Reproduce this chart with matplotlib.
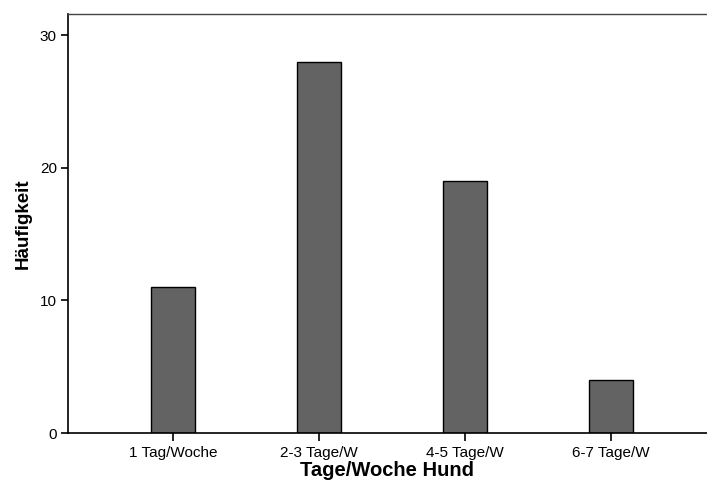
import numpy as np
import matplotlib.pyplot as plt

plt.rcParams['font.family'] = ['Liberation Sans', 'DejaVu Sans']

categories = ["1 Tag/Woche", "2-3 Tage/W", "4-5 Tage/W", "6-7 Tage/W"]
counts = [11, 28, 19, 4]
yticks = [0, 10, 20, 30]

fig = plt.figure(figsize=(7.07, 4.86), dpi=100)
ax = fig.add_axes([68/707, 53/486, 1 - 68/707, (433-14)/486])

x = np.arange(len(categories))
ax.bar(x, counts, width=0.3, color="#636363", edgecolor="black", linewidth=1)

ax.set_xlim(-0.72, 3.66)
ax.set_ylim(0, 31.6)
ax.set_xticks(x)
ax.set_xticklabels(categories, fontsize=11)
ax.set_yticks(yticks)
ax.tick_params(axis="y", labelsize=11, length=5, width=1.2, pad=3)
ax.tick_params(axis="x", length=6, width=1.2, pad=3)
ax.spines["right"].set_visible(False)
for s in ["left", "bottom"]:
    ax.spines[s].set_linewidth(1.2)
ax.spines["top"].set_linewidth(1.0)
ax.spines["top"].set_color("#444444")

ax.set_xlabel("Tage/Woche Hund", fontsize=14.5, fontweight="bold", labelpad=1)
ax.set_ylabel("Häufigkeit", fontsize=13.5, fontweight="bold", labelpad=6)

fig.savefig("out.png", dpi=100)
